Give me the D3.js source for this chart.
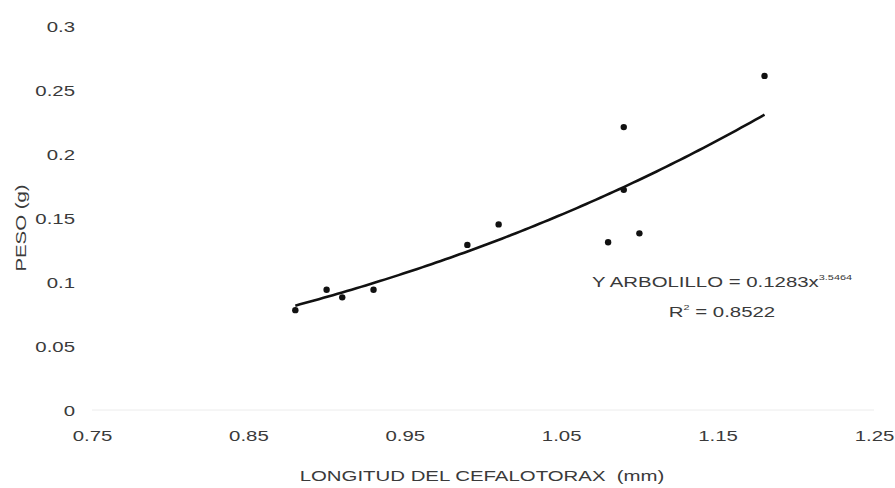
<!DOCTYPE html>
<html><head><meta charset="utf-8">
<script src="https://cdn.jsdelivr.net/npm/d3@7"></script>
<style>body{margin:0;background:#fff}svg{display:block}text{font-family:"Liberation Sans",Arial,sans-serif;fill:#3a3a3a}</style>
</head><body>
<svg id="chart" width="895" height="488"></svg>
<script>
const longitud = [0.88, 0.90, 0.91, 0.93, 0.99, 1.01, 1.08, 1.09, 1.09, 1.10, 1.18];
const peso     = [0.078, 0.094, 0.088, 0.094, 0.129, 0.145, 0.131, 0.221, 0.172, 0.138, 0.261];
const xTicks = [0.75, 0.85, 0.95, 1.05, 1.15, 1.25];
const yTicks = [0, 0.05, 0.1, 0.15, 0.2, 0.25, 0.3];
const fitA = 0.1283, fitB = 3.5464, fitRange = [0.88, 1.18];
const eqLabel = "Y ARBOLILLO = 0.1283x", eqExp = "3.5464", r2Label = "R", r2Value = " = 0.8522";

const FS = 15, SX = 1.36;
const svg = d3.select("#chart");
const x = d3.scaleLinear().domain([0.75, 1.25]).range([92, 874]);
const y = d3.scaleLinear().domain([0, 0.3]).range([410, 26]);

// faint baseline
svg.append("line").attr("x1", x(0.75)).attr("x2", x(1.25)).attr("y1", y(0)).attr("y2", y(0))
  .attr("stroke", "#ececec").attr("stroke-width", 1);

const yAxis = d3.axisLeft(y).tickValues(yTicks).tickSize(0).tickPadding(0).tickFormat(d => String(d));
const gy = svg.append("g").attr("transform", "translate(75,0)").call(yAxis);
gy.select(".domain").remove();
gy.selectAll("text").attr("font-size", FS).attr("x", 0).attr("dy", "0.35em").attr("transform", `scale(${SX},1)`);

const xAxis = d3.axisBottom(x).tickValues(xTicks).tickSize(0).tickPadding(0).tickFormat(d => String(d));
const gx = svg.append("g").attr("transform", "translate(0,436)").call(xAxis);
gx.select(".domain").remove();
gx.selectAll("text").attr("font-size", FS).attr("y", 0).attr("dy", "0.35em").attr("transform", `scale(${SX},1)`);

// trend line from displayed equation
const fitPts = d3.range(0, 101).map(i => {
  const xv = fitRange[0] + (fitRange[1] - fitRange[0]) * i / 100;
  return [xv, fitA * Math.pow(xv, fitB)];
});
svg.append("path").datum(fitPts)
  .attr("d", d3.line().x(d => x(d[0])).y(d => y(d[1])).curve(d3.curveBasis))
  .attr("fill", "none").attr("stroke", "#111").attr("stroke-width", 2.6);

svg.append("g").selectAll("circle").data(longitud).join("circle")
  .attr("cx", d => x(d)).attr("cy", (d, i) => y(peso[i])).attr("r", 3.2).attr("fill", "#111");

function label(px, py, rot) {
  return svg.append("g").attr("transform", `translate(${px},${py})${rot ? " rotate(" + rot + ")" : ""}`)
    .append("text").attr("transform", `scale(${SX},1)`).attr("text-anchor", "middle").attr("font-size", FS);
}
// equation label
const t1 = label(722, 287);
t1.append("tspan").text(eqLabel);
t1.append("tspan").attr("dy", -7).attr("font-size", 8).text(eqExp);
const t2 = label(722, 317);
t2.append("tspan").text(r2Label);
t2.append("tspan").attr("dy", -7).attr("font-size", 8).text("2");
t2.append("tspan").attr("dy", 7).text(r2Value);

// axis titles
label(482, 481).style("white-space", "pre").text("LONGITUD DEL CEFALOTORAX  (mm)");
label(26, 228, -90).text("PESO (g)");
</script>
</body></html>
